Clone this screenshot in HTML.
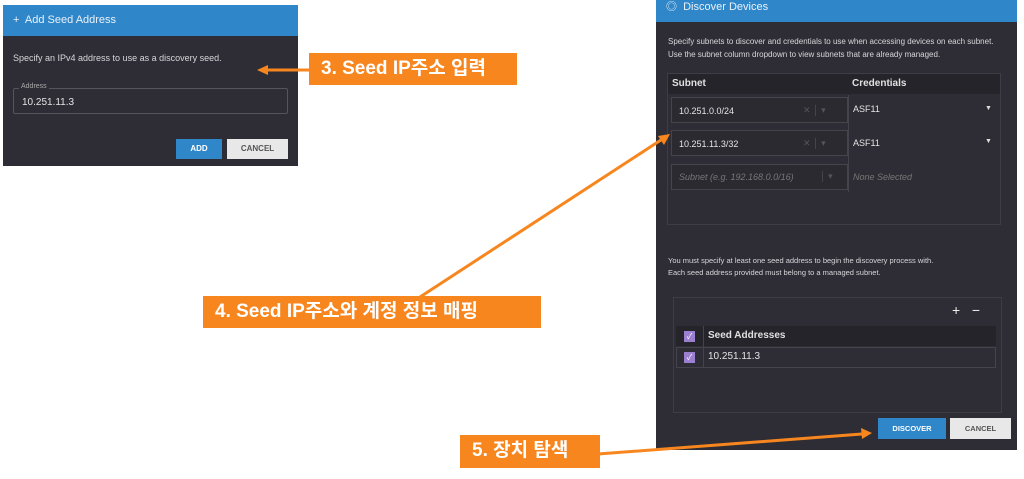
<!DOCTYPE html>
<html><head><meta charset="utf-8"><style>
*{margin:0;padding:0;box-sizing:border-box}
body{width:1024px;height:479px;background:#fff;position:relative;overflow:hidden;font-family:"Liberation Sans","Noto Sans CJK KR",sans-serif}
.a{position:absolute}
.dlg{background:#2e2d35}
.hdr{background:#2f86c8;color:#eaf2fa}
.t{color:#d6d6da;font-size:9px;white-space:nowrap}
.lab{background:#f7861f;color:#fff;font-weight:bold;font-size:19px;white-space:nowrap;padding-left:12px;line-height:32px}
.cell{border:1px solid #45444d;background:#2b2a31}
</style></head><body>
<div class="a dlg" style="left:3px;top:5px;width:295px;height:161px"></div>
<div class="a hdr" style="left:3px;top:5px;width:295px;height:31px;font-size:11px;line-height:31px;padding-left:10px">+&nbsp; Add Seed Address</div>
<div class="a t" style="left:13px;top:53px">Specify an IPv4 address to use as a discovery seed.</div>
<div class="a" style="left:13px;top:88px;width:275px;height:26px;border:1px solid #55545c;border-radius:2px"></div>
<div class="a" style="left:19px;top:83px;font-size:7px;color:#aaa;background:#2e2d35;padding:0 2px">Address</div>
<div class="a t" style="left:22px;top:97px;font-size:10px;color:#e4e4e4">10.251.11.3</div>
<div class="a" style="left:176px;top:139px;width:46px;height:20px;background:#2f86c8;color:#fff;font-size:8px;font-weight:bold;text-align:center;line-height:20px">ADD</div>
<div class="a" style="left:227px;top:139px;width:61px;height:20px;background:#e8e8e8;color:#555;font-size:8px;font-weight:bold;text-align:center;line-height:20px">CANCEL</div>

<div class="a dlg" style="left:656px;top:0;width:361px;height:450px"></div>
<div class="a hdr" style="left:656px;top:0;width:361px;height:22px;font-size:11px;line-height:14px;padding-left:10px">◎&nbsp; Discover Devices</div>
<div class="a t" style="left:668px;top:37px;font-size:8px">Specify subnets to discover and credentials to use when accessing devices on each subnet.</div>
<div class="a t" style="left:668px;top:50px;font-size:8px">Use the subnet column dropdown to view subnets that are already managed.</div>
<div class="a" style="left:667px;top:73px;width:334px;height:152px;border:1px solid #3e3d45"></div>
<div class="a" style="left:668px;top:74px;width:332px;height:20px;background:#25242a"></div>
<div class="a t" style="left:672px;top:78px;font-size:10px;font-weight:bold;color:#e0e0e0">Subnet</div>
<div class="a t" style="left:852px;top:78px;font-size:10px;font-weight:bold;color:#e0e0e0">Credentials</div>
<div class="a cell" style="left:671px;top:97px;width:177px;height:26px"></div>
<div class="a cell" style="left:671px;top:130px;width:177px;height:26px"></div>
<div class="a cell" style="left:671px;top:164px;width:177px;height:26px"></div>
<div class="a" style="left:848px;top:95px;width:152px;height:97px;border-left:1px solid #45444d"></div>
<div class="a t" style="left:679px;top:106px;font-size:9px;color:#e4e4e4">10.251.0.0/24</div>
<div class="a t" style="left:679px;top:139px;font-size:9px;color:#e4e4e4">10.251.11.3/32</div>
<div class="a t" style="left:679px;top:172px;font-size:9px;color:#777;font-style:italic">Subnet (e.g. 192.168.0.0/16)</div>
<div class="a t" style="left:803px;top:105px;color:#555">✕ │ ▾</div>
<div class="a t" style="left:803px;top:138px;color:#555">✕ │ ▾</div>
<div class="a t" style="left:820px;top:171px;color:#555">│ ▾</div>
<div class="a t" style="left:853px;top:104px;font-size:9px;color:#e4e4e4">ASF11</div>
<div class="a t" style="left:853px;top:138px;font-size:9px;color:#e4e4e4">ASF11</div>
<div class="a t" style="left:853px;top:172px;font-size:9px;color:#777;font-style:italic">None Selected</div>
<div class="a t" style="left:985px;top:105px;font-size:7px;color:#ddd">▼</div>
<div class="a t" style="left:985px;top:138px;font-size:7px;color:#ddd">▼</div>
<div class="a t" style="left:668px;top:256px;font-size:7.5px">You must specify at least one seed address to begin the discovery process with.</div>
<div class="a t" style="left:668px;top:268px;font-size:7.5px">Each seed address provided must belong to a managed subnet.</div>
<div class="a" style="left:673px;top:297px;width:329px;height:116px;border:1px solid #3e3d45"></div>
<div class="a t" style="left:952px;top:302px;font-size:14px;color:#eee">+&nbsp;&nbsp; −</div>
<div class="a" style="left:676px;top:326px;width:320px;height:20px;background:#25242a"></div>
<div class="a" style="left:676px;top:347px;width:320px;height:21px;border:1px solid #45444d"></div>
<div class="a" style="left:703px;top:326px;width:1px;height:42px;background:#45444d"></div>
<div class="a" style="left:684px;top:331px;width:11px;height:11px;background:#9b7fd0;color:#fff;font-size:8px;text-align:center;line-height:11px">✓</div>
<div class="a" style="left:684px;top:352px;width:11px;height:11px;background:#9b7fd0;color:#fff;font-size:8px;text-align:center;line-height:11px">✓</div>
<div class="a t" style="left:708px;top:330px;font-size:10px;font-weight:bold;color:#e0e0e0">Seed Addresses</div>
<div class="a t" style="left:708px;top:351px;font-size:10px;color:#e4e4e4">10.251.11.3</div>
<div class="a" style="left:878px;top:418px;width:68px;height:21px;background:#2f86c8;color:#fff;font-size:7.5px;font-weight:bold;text-align:center;line-height:21px">DISCOVER</div>
<div class="a" style="left:950px;top:418px;width:61px;height:21px;background:#e8e8e8;color:#555;font-size:7.5px;font-weight:bold;text-align:center;line-height:21px">CANCEL</div>

<svg class="a" style="left:0;top:0" width="1024" height="479">
<g stroke="#f7861f" stroke-width="3" fill="#f7861f">
<line x1="310" y1="70" x2="265" y2="70"/>
<polygon points="257,70 268,65 268,75" stroke="none"/>
<line x1="420" y1="297" x2="664" y2="138"/>
<polygon points="670,134 658,136 664,145" stroke="none"/>
<line x1="598" y1="454" x2="862" y2="434"/>
<polygon points="872,433 861,428 862,439" stroke="none"/>
</g></svg>

<div class="a lab" style="left:309px;top:53px;width:208px;height:32px">3. Seed IP주소 입력</div>
<div class="a lab" style="left:203px;top:296px;width:338px;height:32px">4. Seed IP주소와 계정 정보 매핑</div>
<div class="a lab" style="left:460px;top:435px;width:140px;height:33px">5. 장치 탐색</div>
</body></html>
